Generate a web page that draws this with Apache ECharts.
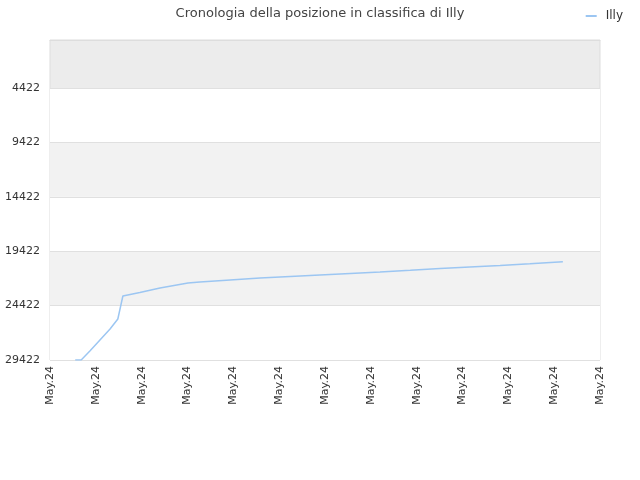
<!DOCTYPE html>
<html>
<head>
<meta charset="utf-8">
<script src="https://cdn.jsdelivr.net/npm/echarts@6/dist/echarts.min.js"></script>
<style>html,body{margin:0;padding:0;background:#fff;}#c{width:640px;height:480px;}</style>
</head>
<body>
<div id="c"></div>
<script>
var titleText = 'Cronologia della posizione in classifica di Illy';
var seriesName = 'Illy';
var xTickLabel = 'May.24';
var yTickValues = [4422, 9422, 14422, 19422, 24422, 29422];
var xPos = [0.55, 0.68, 0.87, 1.09, 1.31, 1.48, 1.59, 1.96, 2.40, 3.01, 3.27, 3.93, 4.58, 5.24, 5.89, 6.55, 7.20, 7.86, 8.51, 9.16, 9.82, 10.47, 11.19];
var ranks = [29422, 29422, 28594, 27583, 26572, 25654, 23540, 23218, 22804, 22345, 22253, 22069, 21885, 21747, 21609, 21472, 21334, 21178, 21012, 20874, 20736, 20580, 20387];

var data = xPos.map(function (x, i) { return [x, ranks[i]]; });
var chart = echarts.init(document.getElementById('c'));
chart.setOption({
  animation: false,
  title: {
    text: titleText, left: 'center', top: 2,
    textStyle: { fontFamily: 'DejaVu Sans', fontSize: 13, fontWeight: 'normal', color: '#444' }
  },
  legend: {
    right: 12, top: 5, icon: 'rect', itemWidth: 11, itemHeight: 2, itemGap: 5,
    textStyle: { fontFamily: 'DejaVu Sans', fontSize: 12, color: '#333', padding: [0, 0, 0, 4] },
    data: [seriesName]
  },
  grid: {
    left: 50, right: 40, top: 40, bottom: 120, show: true,
    borderColor: '#dddddd', borderWidth: 1, backgroundColor: '#ececec'
  },
  xAxis: {
    type: 'value', min: 0, max: 12, interval: 1,
    axisLine: { show: true, lineStyle: { color: '#dddddd' } },
    axisTick: { show: false },
    splitLine: { show: false },
    axisLabel: {
      rotate: 90, margin: 6, fontFamily: 'DejaVu Sans', fontSize: 11, color: '#333',
      formatter: function () { return xTickLabel; }
    }
  },
  yAxis: {
    type: 'value', inverse: true, min: 0, max: 29422,
    axisLine: { show: false },
    axisTick: { show: false, customValues: yTickValues },
    axisLabel: {
      customValues: yTickValues, fontFamily: 'DejaVu Sans', fontSize: 11, color: '#333', margin: 10,
      formatter: function (v) { return String(v); }
    },
    splitLine: { show: true, lineStyle: { color: '#e0e0e0' } },
    splitArea: { show: true, areaStyle: { color: ['#ffffff', '#f2f2f2'] } }
  },
  series: [{
    name: seriesName, type: 'line', data: data, showSymbol: false, symbol: 'none',
    lineStyle: { color: '#9cc6f2', width: 1.5 }, itemStyle: { color: '#9cc6f2' }
  }]
});
</script>
</body>
</html>
